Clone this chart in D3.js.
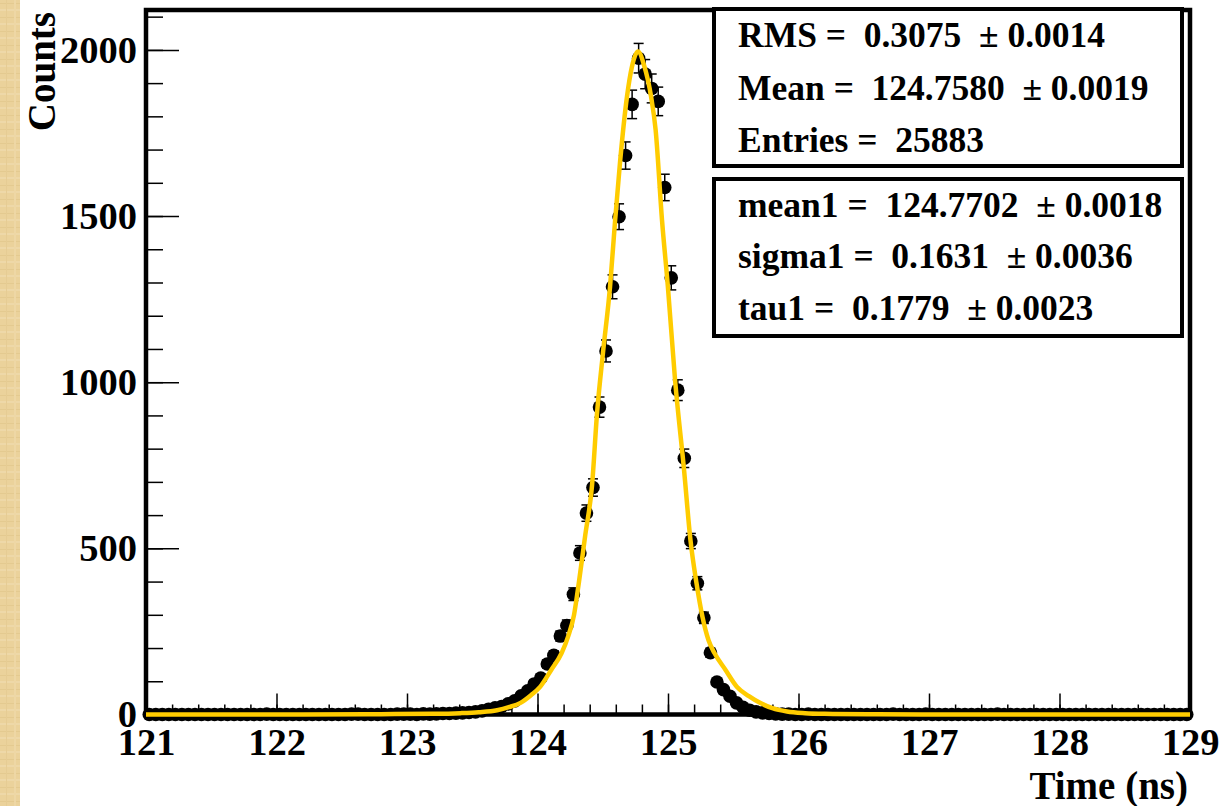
<!DOCTYPE html>
<html>
<head>
<meta charset="utf-8">
<script src="https://cdn.jsdelivr.net/npm/d3@7"></script>
<style>
  body { margin: 0; background: #fff; }
  svg { display: block; }
  text { font-family: "Liberation Serif", "Times New Roman", serif; font-weight: bold; fill: #000; }
  .stat { white-space: pre; }
</style>
</head>
<body>
<svg id="chart" width="1223" height="806"></svg>
<script>
// histogram: 160 bins of 0.05 ns from 121 to 129
const binStart = 121;
const binWidth = 0.05;
const counts = [
  0, 0, 0, 0, 0, 0, 0, 0, 0, 0, 0, 0, 0, 0, 0, 0, 0, 0, 1, 0,
  0, 0, 0, 0, 0, 0, 0, 0, 0, 0, 0, 1, 1, 0, 0, 0, 0, 0, 1, 1,
  1, 0, 2, 1, 2, 3, 3, 4, 5, 6, 8, 11, 16, 20, 24, 32, 41, 56, 71, 92,
  110, 152, 178, 236, 268, 362, 486, 606, 683, 925, 1094, 1287, 1498, 1682, 1836, 1975, 1927, 1884, 1845, 1586,
  1314, 976, 771, 522, 395, 291, 186, 98, 75, 55, 35, 22, 13, 8, 5, 3, 2, 1, 1, 0,
  0, 1, 0, 0, 0, 0, 0, 0, 0, 0, 0, 0, 0, 0, 1, 0, 0, 0, 0, 1,
  0, 0, 0, 0, 0, 0, 0, 0, 0, 0, 1, 0, 0, 0, 0, 0, 0, 0, 0, 0,
  0, 0, 0, 0, 0, 0, 0, 0, 0, 0, 0, 0, 0, 0, 0, 0, 0, 0, 0, 0
];

// fit curve
const fitTime = [121.0, 122.2, 122.8, 123.2, 123.41, 123.55, 123.69, 123.78, 123.87, 123.95, 124.02,
  124.105, 124.185, 124.235, 124.28, 124.318, 124.366, 124.418, 124.456, 124.502, 124.556,
  124.594, 124.632, 124.686, 124.724, 124.77, 124.818, 124.87, 124.905, 124.954, 124.999,
  125.054, 125.123, 125.172, 125.218, 125.264, 125.31, 125.356, 125.441, 125.529, 125.62,
  125.705, 125.8, 125.912, 126.05, 126.2, 126.6, 127.0, 129.0];
const fitCounts = [0, 0, 1, 2, 4, 7, 13, 22, 35, 58, 83,
  134, 185, 235, 300, 400, 540, 690, 905, 1089, 1288,
  1483, 1660, 1860, 1950, 1995, 1952, 1860, 1760, 1488, 1288,
  1007, 736, 525, 396, 294, 224, 185, 134, 83, 55,
  35, 19, 9, 4, 2, 0.5, 0, 0];

const xTicks = [121, 122, 123, 124, 125, 126, 127, 128, 129];
const yTicks = [0, 500, 1000, 1500, 2000];

const statLines = ["RMS =  0.3075  \u00b1 0.0014", "Mean =  124.7580  \u00b1 0.0019", "Entries =  25883"];
const fitLines = ["mean1 =  124.7702  \u00b1 0.0018", "sigma1 =  0.1631  \u00b1 0.0036", "tau1 =  0.1779  \u00b1 0.0023"];

const svg = d3.select("#chart");

// parchment strip on the left
const defs = svg.append("defs");
const pat = defs.append("pattern").attr("id", "paper")
  .attr("width", 20).attr("height", 14).attr("patternUnits", "userSpaceOnUse");
pat.append("rect").attr("width", 20).attr("height", 14).attr("fill", "#ebd29b");
pat.append("rect").attr("y", 3).attr("width", 20).attr("height", 1).attr("fill", "#e4ca90");
pat.append("rect").attr("y", 9).attr("width", 20).attr("height", 2).attr("fill", "#eed8a8");
pat.append("rect").attr("x", 6).attr("width", 1).attr("height", 14).attr("fill", "#e6cc94");
pat.append("rect").attr("x", 14).attr("width", 2).attr("height", 14).attr("fill", "#eed7a5");
svg.append("rect").attr("x", 0).attr("y", 0).attr("width", 20).attr("height", 806).attr("fill", "url(#paper)");

const x = d3.scaleLinear().domain([121, 129]).range([146, 1190]);
const y = d3.scaleLinear().domain([0, 2120]).range([714.5, 10]);

const xMinor = d3.range(0, 41).map(i => 121 + i * 0.2);
const yMinor = d3.range(0, 22).map(i => i * 100);

// minor ticks
svg.append("g").attr("transform", `translate(0,${y(0)})`)
  .call(d3.axisBottom(x).tickValues(xMinor).tickSize(-10).tickFormat(""))
  .call(g => g.select(".domain").remove())
  .call(g => g.selectAll("line").attr("stroke-width", 1.5));
svg.append("g").attr("transform", `translate(${x(121)},0)`)
  .call(d3.axisLeft(y).tickValues(yMinor).tickSize(-17).tickFormat(""))
  .call(g => g.select(".domain").remove())
  .call(g => g.selectAll("line").attr("stroke-width", 1.5));

// major ticks + labels
svg.append("g").attr("transform", `translate(0,${y(0)})`)
  .call(d3.axisBottom(x).tickValues(xTicks).tickSize(-21).tickPadding(13).tickFormat(d3.format("d")))
  .call(g => g.select(".domain").remove())
  .call(g => g.selectAll("line").attr("stroke-width", 1.5))
  .call(g => g.selectAll("text").attr("font-size", 38.5).attr("font-family", null));
svg.append("g").attr("transform", `translate(${x(121)},0)`)
  .call(d3.axisLeft(y).tickValues(yTicks).tickSize(-33).tickPadding(9).tickFormat(d3.format("d")))
  .call(g => g.select(".domain").remove())
  .call(g => g.selectAll("line").attr("stroke-width", 1.5))
  .call(g => g.selectAll("text").attr("font-size", 38.5).attr("font-family", null));

// frame
svg.append("rect")
  .attr("x", x(121)).attr("y", y(2120))
  .attr("width", x(129) - x(121)).attr("height", y(0) - y(2120))
  .attr("fill", "none").attr("stroke", "#000").attr("stroke-width", 4.5);

// data points
const bins = counts.map((c, i) => ({ t: binStart + binWidth * (i + 0.5), c: c }));

const errs = svg.append("g").attr("stroke", "#000").attr("stroke-width", 1.5);
bins.filter(d => d.c > 0).forEach(d => {
  const e = Math.sqrt(d.c);
  const cx = x(d.t);
  errs.append("line").attr("x1", cx).attr("x2", cx).attr("y1", y(d.c + e)).attr("y2", y(d.c - e));
  errs.append("line").attr("x1", cx - 5).attr("x2", cx + 5).attr("y1", y(d.c + e)).attr("y2", y(d.c + e));
  errs.append("line").attr("x1", cx - 5).attr("x2", cx + 5).attr("y1", y(d.c - e)).attr("y2", y(d.c - e));
});

svg.append("g").selectAll("circle")
  .data(bins)
  .enter().append("circle")
  .attr("cx", d => x(d.t))
  .attr("cy", d => y(d.c))
  .attr("r", 6.8)
  .attr("fill", "#000");

// fit
const fitData = fitTime.map((t, i) => ({ t: t, c: fitCounts[i] }));
svg.append("path")
  .datum(fitData)
  .attr("fill", "none")
  .attr("stroke", "#ffcc00")
  .attr("stroke-width", 4.5)
  .attr("stroke-linejoin", "round")
  .attr("d", d3.line().x(d => x(d.t)).y(d => y(d.c)).curve(d3.curveMonotoneX));

// axis titles
svg.append("text")
  .attr("x", 1188).attr("y", 799)
  .attr("text-anchor", "end")
  .attr("font-size", 39)
  .text("Time (ns)");
svg.append("text")
  .attr("transform", "translate(55,12) rotate(-90)")
  .attr("text-anchor", "end")
  .attr("font-size", 39)
  .text("Counts");

// stat boxes
function statBox(top, lines, baselines) {
  svg.append("rect")
    .attr("x", 714).attr("y", top).attr("width", 468).attr("height", 157)
    .attr("fill", "#fff").attr("stroke", "#000").attr("stroke-width", 4);
  lines.forEach((s, i) => {
    svg.append("text")
      .attr("class", "stat")
      .attr("x", 738).attr("y", baselines[i])
      .attr("font-size", 35.5)
      .text(s);
  });
}
statBox(9, statLines, [47, 100, 152]);
statBox(179, fitLines, [217, 268, 320]);
</script>
</body>
</html>
